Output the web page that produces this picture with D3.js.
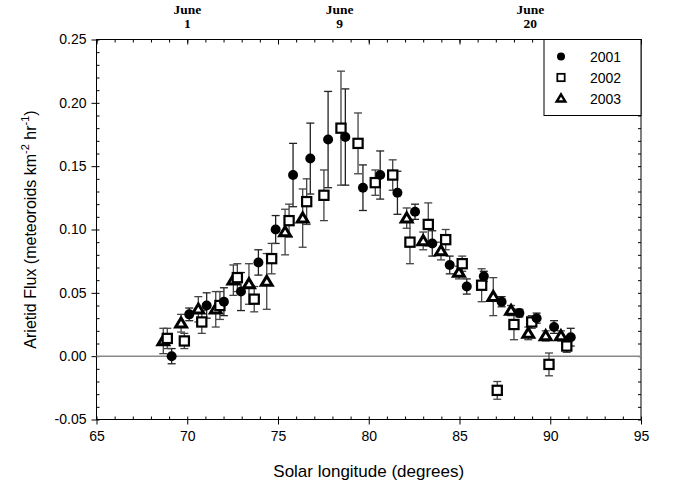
<!DOCTYPE html>
<html>
<head>
<meta charset="utf-8">
<script src="https://cdn.jsdelivr.net/npm/d3@7"></script>
<style>
  body { margin: 0; background: white; }
  text { font-family: "Liberation Sans", Arial, sans-serif; }
</style>
</head>
<body>
<script>
//data
var lon2001  = [69.14, 70.11, 71.07, 72.02, 72.96, 73.92, 74.87, 75.83, 76.78, 77.76, 78.71, 79.68, 80.63, 81.58, 82.55, 83.50, 84.46, 85.40, 86.34, 87.32, 88.30, 89.25, 90.21, 91.13];
var flux2001 = [0.000, 0.033, 0.040, 0.043, 0.051, 0.074, 0.100, 0.143, 0.156, 0.171, 0.173, 0.133, 0.143, 0.129, 0.114, 0.089, 0.072, 0.055, 0.063, 0.043, 0.034, 0.030, 0.023, 0.015];
var err2001  = [0.006, 0.005, 0.010, 0.011, 0.015, 0.010, 0.011, 0.025, 0.028, 0.038, 0.038, 0.018, 0.019, 0.017, 0.006, 0.010, 0.007, 0.006, 0.004, 0.004, 0.003, 0.004, 0.005, 0.007];

var lon2002  = [68.90, 69.84, 70.80, 71.80, 72.76, 73.69, 74.65, 75.61, 76.58, 77.53, 78.47, 79.41, 80.36, 81.32, 82.27, 83.28, 84.24, 85.15, 86.22, 87.08, 88.00, 88.98, 89.93, 90.91];
var flux2002 = [0.014, 0.012, 0.027, 0.040, 0.062, 0.045, 0.077, 0.107, 0.122, 0.127, 0.180, 0.168, 0.137, 0.143, 0.090, 0.104, 0.092, 0.073, 0.056, -0.027, 0.025, 0.027, -0.0065, 0.008];
var err2002  = [0.008, 0.006, 0.009, 0.011, 0.011, 0.010, 0.012, 0.013, 0.018, 0.020, 0.045, 0.024, 0.010, 0.012, 0.017, 0.017, 0.008, 0.006, 0.013, 0.007, 0.012, 0.005, 0.009, 0.005];

var lon2003  = [68.68, 69.66, 70.61, 71.57, 72.54, 73.40, 74.38, 75.39, 76.36, 82.09, 83.00, 83.98, 84.97, 86.86, 87.84, 88.79, 89.75, 90.59];
var flux2003 = [0.012, 0.026, 0.037, 0.037, 0.060, 0.057, 0.059, 0.098, 0.109, 0.109, 0.091, 0.083, 0.066, 0.047, 0.036, 0.018, 0.016, 0.016];
var err2003  = [0.010, 0.007, 0.010, 0.014, 0.012, 0.016, 0.022, 0.018, 0.023, 0.008, 0.007, 0.007, 0.005, 0.015, 0.004, 0.005, 0.004, 0.004];

var years = ["2001", "2002", "2003"];

//top axis: dates
var dateLon  = [70, 78.4, 88.9];
var dateText = ["1", "9", "20"];

var width = 676;
var height = 489;
var margin = {left: 96.5, right: 35, top: 39.5, bottom: 69.5};
var plotW = width - margin.left - margin.right;
var plotH = height - margin.top - margin.bottom;

var svg = d3.select("body").append("svg")
    .attr("width", width)
    .attr("height", height);

var x = d3.scaleLinear().domain([65, 95]).range([0, plotW]);
var y = d3.scaleLinear().domain([-0.05, 0.25]).range([plotH, 0]);

var g = svg.append("g")
    .attr("transform", "translate(" + margin.left + "," + margin.top + ")");

//tick values
var xMajor = d3.range(65, 95.1, 5);
var xMinor = d3.range(65, 95.1, 1);
var yMajor = d3.range(-5, 26, 5).map(function(d){ return d / 100; });
var yMinor = d3.range(-5, 26, 1).map(function(d){ return d / 100; });

function styleAxis(sel){
    sel.select(".domain").remove();
    sel.selectAll("line").attr("stroke", "black");
    sel.selectAll("text").attr("fill", "black");
}

//bottom axis
g.append("g").attr("transform", "translate(0," + plotH + ")")
    .call(d3.axisBottom(x).tickValues(xMinor).tickSize(-3).tickFormat(""))
    .call(styleAxis);
g.append("g").attr("transform", "translate(0," + plotH + ")")
    .call(d3.axisBottom(x).tickValues(xMajor).tickSize(5).tickPadding(7).tickFormat(d3.format("d")))
    .call(styleAxis)
    .selectAll("text").style("font-size", "14px");

//top axis
g.append("g")
    .call(d3.axisTop(x).tickValues(xMinor).tickSize(-3).tickFormat(""))
    .call(styleAxis);
g.append("g")
    .call(d3.axisTop(x).tickValues(xMajor).tickSize(-5).tickFormat(""))
    .call(styleAxis);

//left axis
g.append("g")
    .call(d3.axisLeft(y).tickValues(yMinor).tickSize(-3).tickFormat(""))
    .call(styleAxis);
g.append("g")
    .call(d3.axisLeft(y).tickValues(yMajor).tickSize(5).tickPadding(5)
        .tickFormat(function(d){ return d.toFixed(2); }))
    .call(styleAxis)
    .selectAll("text").style("font-size", "14px");

//right axis
g.append("g").attr("transform", "translate(" + plotW + ",0)")
    .call(d3.axisRight(y).tickValues(yMinor).tickSize(-3).tickFormat(""))
    .call(styleAxis);

//frame
g.append("rect")
    .attr("width", plotW).attr("height", plotH)
    .attr("fill", "none").attr("stroke", "black").attr("stroke-width", 1);

//zero line
g.append("line")
    .attr("x1", 0).attr("x2", plotW)
    .attr("y1", y(0)).attr("y2", y(0))
    .attr("stroke", "#888").attr("stroke-width", 1.5);

//date labels on top
var dates = svg.append("g")
    .selectAll("g")
    .data(dateLon)
    .enter().append("g")
    .attr("transform", function(d){ return "translate(" + (margin.left + x(d)) + ",0)"; });
dates.append("text")
    .attr("y", 14).attr("text-anchor", "middle")
    .style("font-family", "'Liberation Serif', 'Times New Roman', serif")
    .style("font-size", "13.5px").style("font-weight", "bold")
    .text("June");
dates.append("text")
    .attr("y", 28).attr("text-anchor", "middle")
    .style("font-family", "'Liberation Serif', 'Times New Roman', serif")
    .style("font-size", "13.5px").style("font-weight", "bold")
    .text(function(d, i){ return dateText[i]; });

//error bars
function errorBars(lon, flux, err, color){
    var bars = g.append("g").selectAll("g")
        .data(lon).enter().append("g")
        .attr("stroke", color).attr("stroke-width", 1.3);
    bars.append("line")
        .attr("x1", function(d){ return x(d); }).attr("x2", function(d){ return x(d); })
        .attr("y1", function(d, i){ return y(flux[i] - err[i]); })
        .attr("y2", function(d, i){ return y(flux[i] + err[i]); });
    bars.append("line")
        .attr("x1", function(d){ return x(d) - 4; }).attr("x2", function(d){ return x(d) + 4; })
        .attr("y1", function(d, i){ return y(flux[i] + err[i]); })
        .attr("y2", function(d, i){ return y(flux[i] + err[i]); });
    bars.append("line")
        .attr("x1", function(d){ return x(d) - 4; }).attr("x2", function(d){ return x(d) + 4; })
        .attr("y1", function(d, i){ return y(flux[i] - err[i]); })
        .attr("y2", function(d, i){ return y(flux[i] - err[i]); });
}

errorBars(lon2001, flux2001, err2001, "#222");
errorBars(lon2002, flux2002, err2002, "#444");
errorBars(lon2003, flux2003, err2003, "#444");

//marker shapes
function drawDot(sel){
    sel.append("circle").attr("r", 5).attr("fill", "black");
}
function drawSquare(sel){
    sel.append("rect").attr("x", -4.6).attr("y", -4.6).attr("width", 9.2).attr("height", 9.2)
        .attr("fill", "white").attr("stroke", "black").attr("stroke-width", 2.2);
}
function drawTriangle(sel){
    sel.append("path").attr("d", "M0,-5.2L5.4,3.8L-5.4,3.8Z")
        .attr("fill", "white").attr("stroke", "black").attr("stroke-width", 3)
        .attr("stroke-linejoin", "miter");
}

function points(lon, flux, shape){
    var p = g.append("g").selectAll("g")
        .data(lon).enter().append("g")
        .attr("transform", function(d, i){ return "translate(" + x(d) + "," + y(flux[i]) + ")"; });
    shape(p);
}

points(lon2003, flux2003, drawTriangle);
points(lon2002, flux2002, drawSquare);
points(lon2001, flux2001, drawDot);

//legend
var legend = g.append("g").attr("transform", "translate(" + (plotW - 97) + ",0)");
legend.append("rect")
    .attr("width", 97).attr("height", 76)
    .attr("fill", "white").attr("stroke", "black");
var shapes = [drawDot, drawSquare, drawTriangle];
var items = legend.selectAll(".legendItem")
    .data(years).enter().append("g")
    .attr("class", "legendItem")
    .attr("transform", function(d, i){ return "translate(17," + (17 + i * 21) + ")"; });
items.each(function(d, i){
    var s = d3.select(this).append("g").attr("transform", "scale(0.8)");
    shapes[i](s);
});
items.append("text")
    .attr("x", 29).attr("y", 5)
    .style("font-size", "14px")
    .text(function(d){ return d; });

//axis titles
svg.append("text")
    .attr("x", margin.left + plotW / 2).attr("y", 477)
    .attr("text-anchor", "middle")
    .style("font-size", "17px")
    .text("Solar longitude (degrees)");

var ylab = svg.append("text")
    .attr("transform", "translate(36," + (margin.top + plotH / 2) + ") rotate(-90)")
    .attr("text-anchor", "middle")
    .style("font-size", "16px");
ylab.append("tspan").text("Arietid Flux (meteoroids km");
ylab.append("tspan").attr("dy", -7).style("font-size", "11px").text("-2");
ylab.append("tspan").attr("dy", 7).text(" hr");
ylab.append("tspan").attr("dy", -7).style("font-size", "11px").text("-1");
ylab.append("tspan").attr("dy", 7).text(")");
</script>
</body>
</html>
